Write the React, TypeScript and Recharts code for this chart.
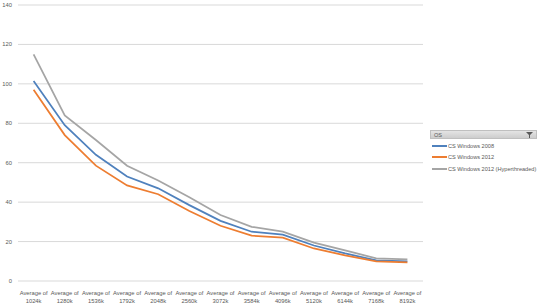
import { LineChart, Line, XAxis, YAxis, CartesianGrid } from "recharts";

const categories = [
  "1024k", "1280k", "1536k", "1792k", "2048k", "2560k", "3072k",
  "3584k", "4096k", "5120k", "6144k", "7168k", "8192k",
];
const win2008 = [101.5, 79, 64, 53, 47, 38.5, 30.5, 25, 23.5, 18, 14, 10.5, 10];
const win2012 = [97, 74, 58.5, 48.5, 44, 35.5, 28, 23, 22, 16.5, 13, 10, 9.5];
const win2012ht = [115, 84, 71.5, 58.5, 51, 42.5, 33.5, 27.5, 25, 19.5, 15.5, 11.5, 11];
const yTicks = [0, 20, 40, 60, 80, 100, 120, 140];

const seriesInfo = [
  { key: "w2008", name: "CS Windows 2008", color: "#4F81BD" },
  { key: "w2012", name: "CS Windows 2012", color: "#ED7D31" },
  { key: "w2012ht", name: "CS Windows 2012 (Hyperthreaded)", color: "#A5A5A5" },
];

const data = categories.map((c, i) => ({
  cat: c,
  w2008: win2008[i],
  w2012: win2012[i],
  w2012ht: win2012ht[i],
}));

const FONT = "'Liberation Sans', Arial, sans-serif";

function XTick(props: any) {
  const { x, y, payload } = props;
  return (
    <text x={x} y={y} textAnchor="middle" fontSize={5.8} fill="#595959" fontFamily={FONT}>
      <tspan x={x} dy={6}>Average of</tspan>
      <tspan x={x} dy={8}>{payload.value}</tspan>
    </text>
  );
}

// legend drawn beside the chart, like the Excel pivot-chart field button
function OsLegend() {
  return (
    <div
      style={{
        position: "absolute",
        left: 430,
        top: 130,
        width: 107,
        fontFamily: FONT,
        fontSize: 5.6,
        color: "#595959",
        whiteSpace: "nowrap",
      }}
    >
      <div
        style={{
          height: 7,
          background: "linear-gradient(#e4e4e4, #cdcdcd)",
          border: "1px solid #bfbfbf",
          display: "flex",
          alignItems: "center",
          justifyContent: "space-between",
          padding: "0 3px",
          marginBottom: 1,
        }}
      >
        <span>OS</span>
        <svg width="7" height="6">
          <polygon points="0,0 7,0 4,3 4,6 3,6 3,3" fill="#595959" />
        </svg>
      </div>
      {seriesInfo.map((s) => (
        <div key={s.key} style={{ display: "flex", alignItems: "center", height: 11.5 }}>
          <span style={{ display: "inline-block", width: 15, height: 2, background: s.color, marginLeft: 2 }} />
          <span style={{ marginLeft: 1 }}>{s.name}</span>
        </div>
      ))}
    </div>
  );
}

export default function App() {
  return (
    <div style={{ position: "fixed", left: 0, top: 0, width: 540, height: 304, background: "#fff" }}>
      <LineChart width={540} height={304} data={data} margin={{ top: 5, right: 117, left: 0, bottom: 0 }}>
        <CartesianGrid vertical={false} stroke="#d9d9d9" />
        <XAxis
          dataKey="cat"
          axisLine={false}
          tickLine={false}
          height={23}
          interval={0}
          padding={{ left: 15.6, right: 15.6 }}
          tick={<XTick />}
        />
        <YAxis
          width={18}
          domain={[0, 140]}
          ticks={yTicks}
          axisLine={false}
          tickLine={false}
          tickMargin={0}
          tick={{ fontSize: 5.8, fill: "#595959", fontFamily: FONT }}
        />
        {seriesInfo.map((s) => (
          <Line
            key={s.key}
            dataKey={s.key}
            name={s.name}
            stroke={s.color}
            strokeWidth={1.75}
            dot={false}
            type="linear"
            isAnimationActive={false}
          />
        ))}
      </LineChart>
      <OsLegend />
    </div>
  );
}
